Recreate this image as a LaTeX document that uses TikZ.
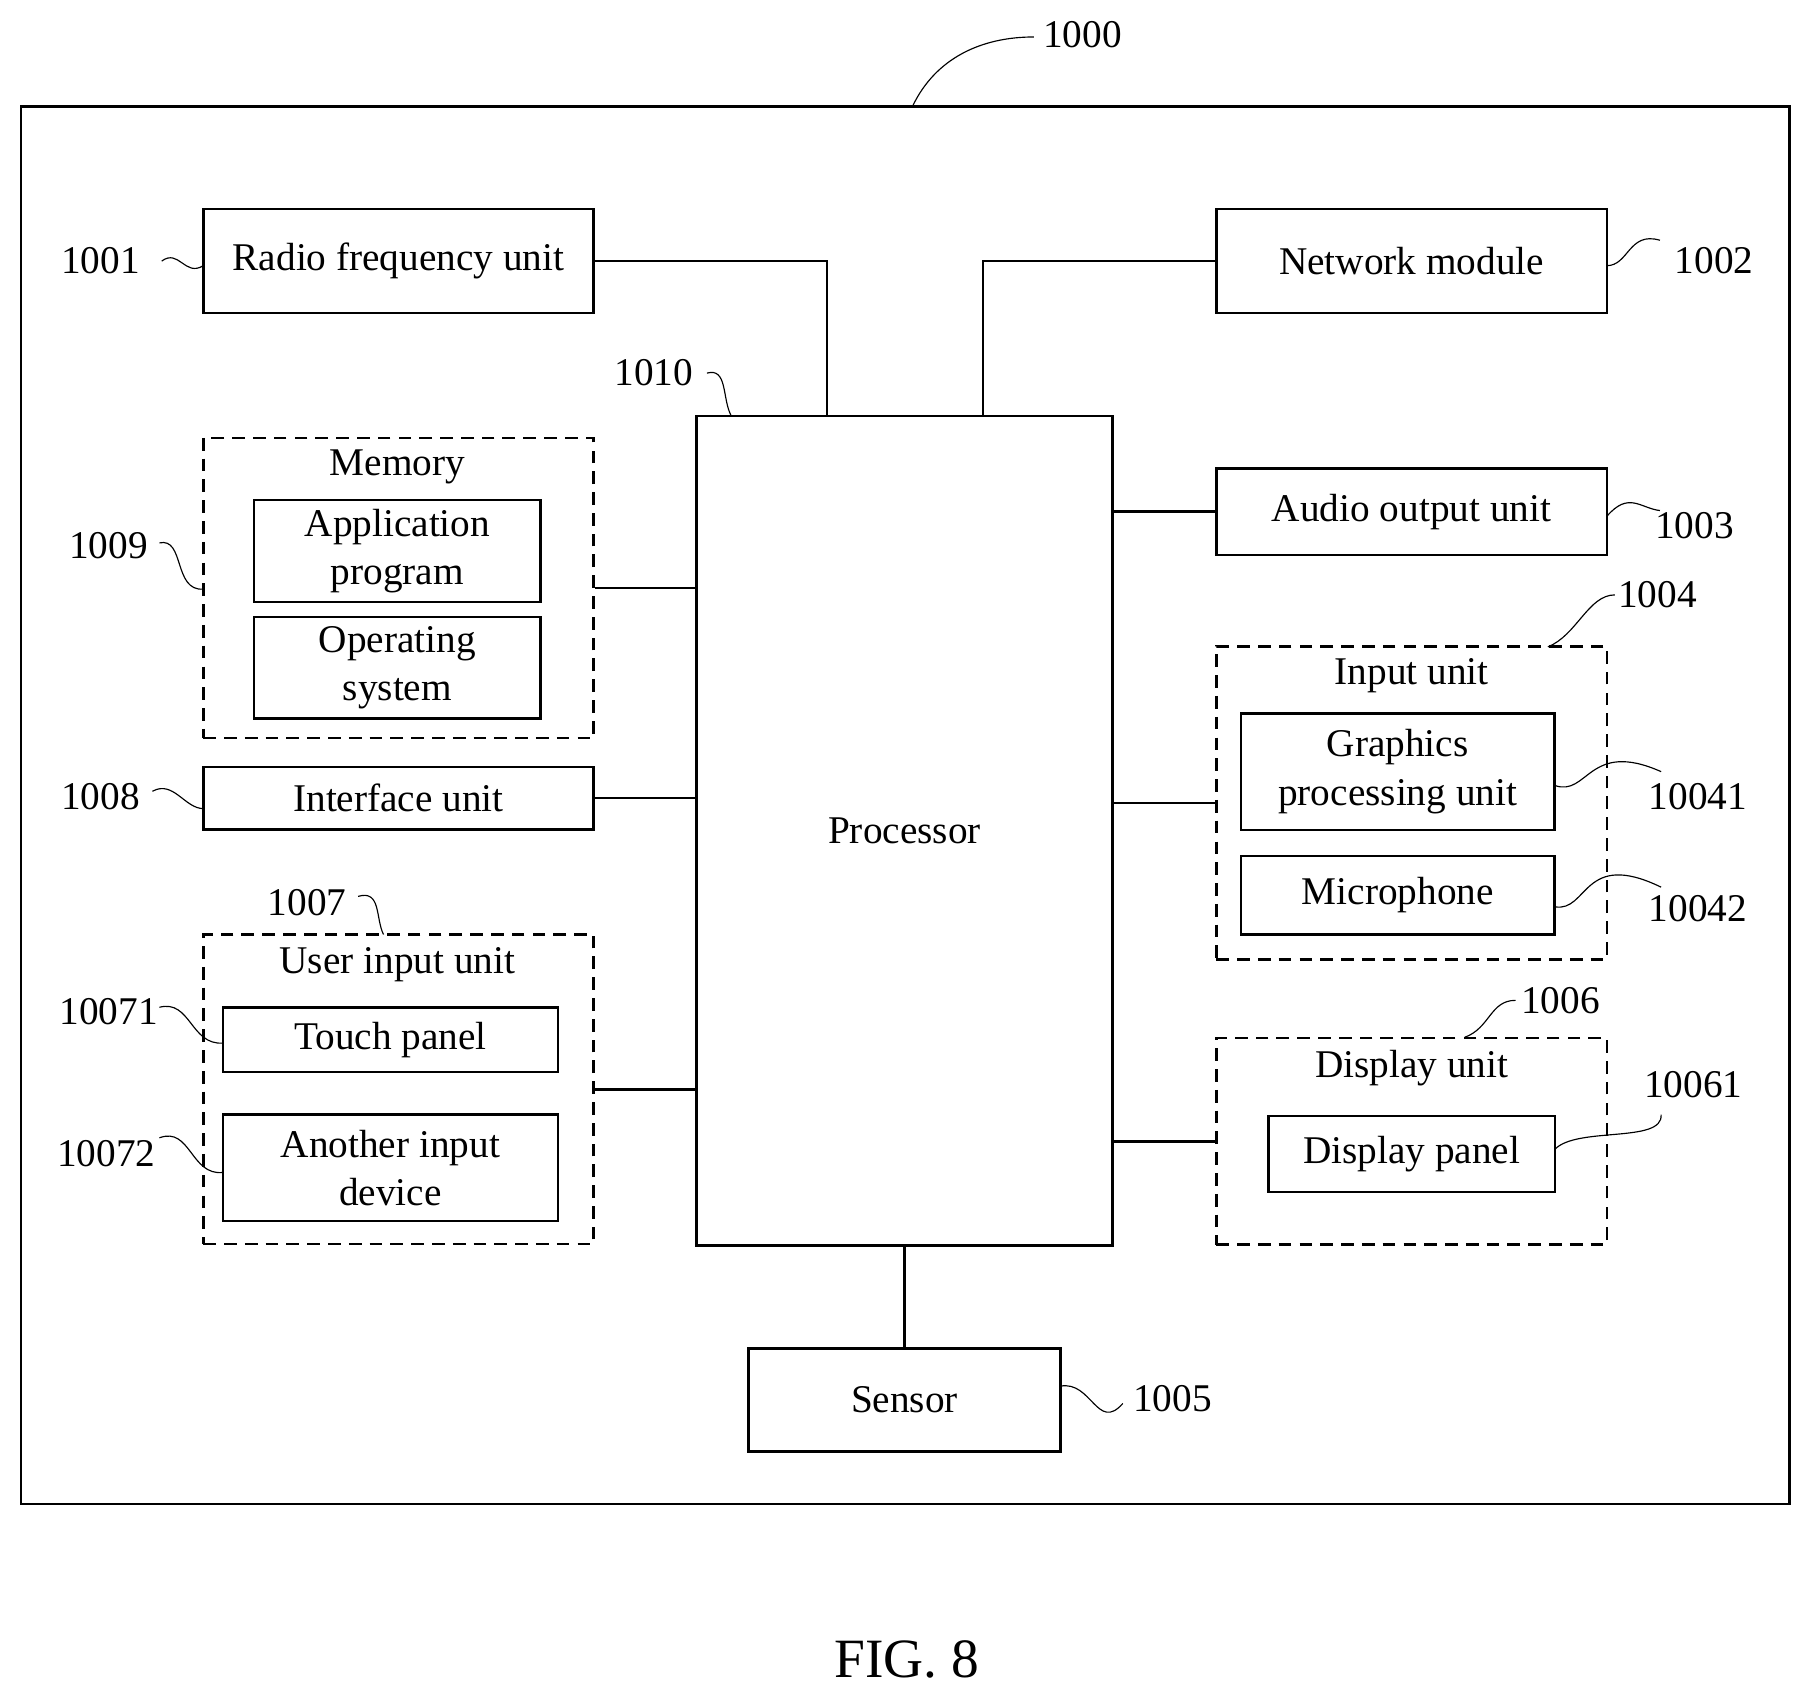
\documentclass[tikz,border=0pt]{standalone}
\usepackage{fontspec}
\setmainfont{Liberation Serif}
\begin{document}
\begin{tikzpicture}[x=1pt,y=-1pt,
 box/.style={draw,line width=2.2pt,inner sep=0pt,align=center,font=\fontsize{34}{42}\selectfont},
 dbox/.style={box,dashed,dash pattern=on 11pt off 7pt},
 lab/.style={font=\fontsize{34}{38}\selectfont,inner sep=0pt},
 ln/.style={line width=2.2pt},
 sq/.style={line width=1pt}]
\useasboundingbox (0,0) rectangle (1560,1466);
\draw[ln] (18,92) rectangle (1549,1302);
\node[lab] (l1000) at (937,30) {1000};
\coordinate (f1000) at (790,92);
\draw[sq] (f1000) .. controls (810,50) and (850,32) .. (895,32);
% boxes
\node[box,minimum width=338,minimum height=90] (rf) at (345,226) {Radio frequency unit};
\node[box,minimum width=338,minimum height=90] (net) at (1222,226) {Network module};
\node[box,minimum width=360,minimum height=718] (proc) at (783,719) {Processor};
\node[dbox,minimum width=338,minimum height=260] (mem) at (345,509) {};
\node[lab] (memt) at (344,404) {Memory};
\node[box,minimum width=248,minimum height=88] (app) at (344,477) {Application\\program};
\node[box,minimum width=248,minimum height=88] (os) at (344,578) {Operating\\system};
\node[box,minimum width=338,minimum height=54] (intf) at (345,691) {Interface unit};
\node[dbox,minimum width=338,minimum height=268] (uin) at (345,943) {};
\node[lab] (uint) at (344,835) {User input unit};
\node[box,minimum width=290,minimum height=56] (tp) at (338,900) {Touch panel};
\node[box,minimum width=290,minimum height=92] (aid) at (338,1011) {Another input\\device};
\node[box,minimum width=338,minimum height=75] (aud) at (1222,443) {Audio output unit};
\node[dbox,minimum width=338,minimum height=271] (inu) at (1222,695) {};
\node[lab] (inut) at (1222,585) {Input unit};
\node[box,minimum width=271,minimum height=101] (gpu) at (1210,668) {Graphics\\processing unit};
\node[box,minimum width=271,minimum height=68] (mic) at (1210,775) {Microphone};
\node[dbox,minimum width=338,minimum height=179] (disp) at (1222,988) {};
\node[lab] (dispt) at (1222,925) {Display unit};
\node[box,minimum width=248,minimum height=66] (dp) at (1222,999) {Display panel};
\node[box,minimum width=270,minimum height=89] (sen) at (783,1212) {Sensor};
\node[font=\fontsize{48}{52}\selectfont] (fig) at (785,1437) {FIG. 8};
% connectors
\draw[ln] (rf.east) -| (716,360);
\draw[ln] (net.west) -| (851,360);
\draw[ln] (mem.east) -- (proc.west |- mem.east);
\draw[ln] (intf.east) -- (proc.west |- intf.east);
\draw[ln] (uin.east) -- (proc.west |- uin.east);
\draw[ln] (aud.west) -- (proc.east |- aud.west);
\draw[ln] (inu.west) -- (proc.east |- inu.west);
\draw[ln] (disp.west) -- (proc.east |- disp.west);
\draw[ln] (proc.south) -- (sen.north);
% reference labels
\node[lab] (l1001) at (87,226) {1001};
\draw[sq] (140,226) .. controls (155,215) and (160,240) .. (176,230);
\node[lab] (l1002) at (1484,226) {1002};
\draw[sq] (1391,230) .. controls (1410,230) and (1410,200) .. (1437,208);
\node[lab] (l1003) at (1467,455) {1003};
\draw[sq] (1391,447) .. controls (1410,425) and (1420,440) .. (1437,442);
\node[lab] (l1004) at (1435,515) {1004};
\draw[sq] (1340,560) .. controls (1365,550) and (1375,515) .. (1398,515);
\node[lab] (l1005) at (1015,1211) {1005};
\draw[sq] (918,1200) .. controls (945,1195) and (950,1240) .. (972,1215);
\node[lab] (l1006) at (1351,866) {1006};
\draw[sq] (1268,898) .. controls (1290,890) and (1290,866) .. (1312,866);
\node[lab] (l1007) at (266,781) {1007};
\draw[sq] (310,776) .. controls (330,770) and (325,795) .. (332,809);
\node[lab] (l1008) at (87,690) {1008};
\draw[sq] (132,685) .. controls (150,675) and (160,700) .. (176,700);
\node[lab] (l1009) at (94,472) {1009};
\draw[sq] (138,470) .. controls (160,465) and (150,512) .. (176,510);
\node[lab] (l1010) at (566,323) {1010};
\draw[sq] (612,323) .. controls (630,318) and (625,345) .. (633,360);
\node[lab] (l10041) at (1470,690) {10041};
\draw[sq] (1346,680) .. controls (1375,690) and (1375,640) .. (1438,668);
\node[lab] (l10042) at (1470,787) {10042};
\draw[sq] (1346,785) .. controls (1375,790) and (1370,735) .. (1438,768);
\node[lab] (l10061) at (1466,939) {10061};
\draw[sq] (1346,995) .. controls (1365,975) and (1440,990) .. (1438,965);
\node[lab] (l10071) at (94,876) {10071};
\draw[sq] (138,872) .. controls (165,865) and (165,905) .. (193,903);
\node[lab] (l10072) at (92,999) {10072};
\draw[sq] (138,985) .. controls (165,975) and (165,1018) .. (193,1015);
\end{tikzpicture}
\end{document}
